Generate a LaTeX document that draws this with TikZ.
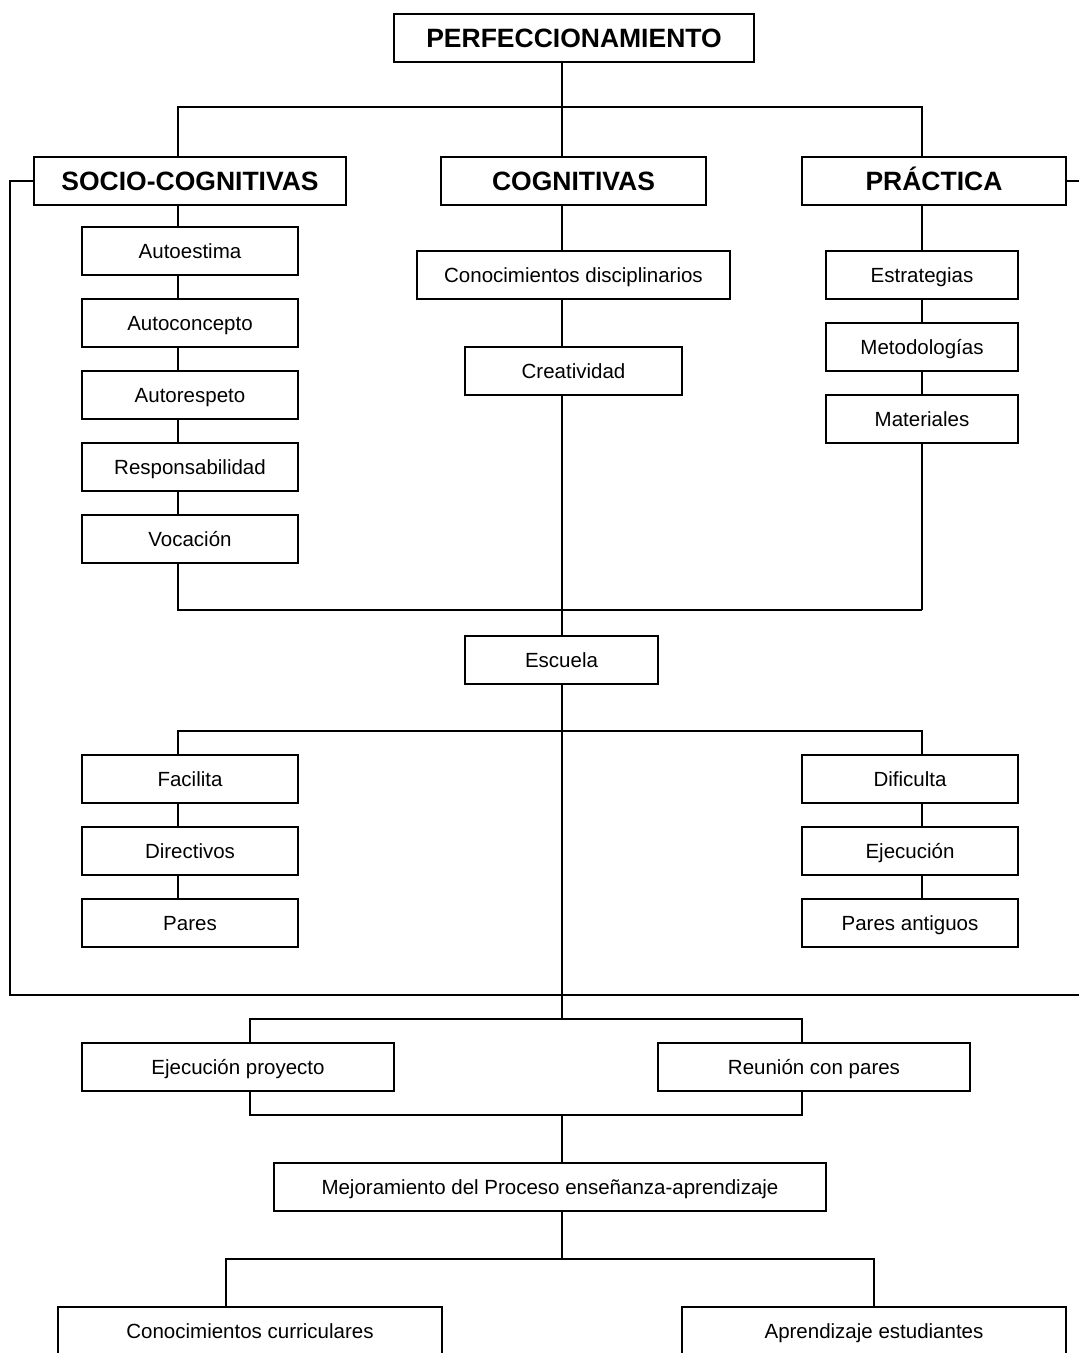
\documentclass[tikz,border=0pt]{standalone}
\usepackage{fontspec}
\setmainfont{Liberation Sans}
\begin{document}
\begin{tikzpicture}[x=1pt,y=-1pt,
  box/.style={draw,line width=1.5pt,fill=white,minimum height=48pt,inner sep=0pt,align=center,text height=17pt,text depth=3pt,font=\fontsize{20.5}{24}\selectfont},
  hbox/.style={box,text height=21.5pt,text depth=3pt,font=\fontsize{26.5}{30}\selectfont\bfseries},
  ln/.style={line width=1.5pt}]
\useasboundingbox (0,0) rectangle (1079,1353);
\clip (0,0) rectangle (1079,1353);
% nodes
\node[hbox,minimum width=360pt] (top) at (574,38) {PERFECCIONAMIENTO};
\node[hbox,minimum width=312pt] (sc) at (190,181) {SOCIO-COGNITIVAS};
\node[hbox,minimum width=265pt] (cog) at (573.5,181) {COGNITIVAS};
\node[hbox,minimum width=264pt] (pra) at (934,181) {PRÁCTICA};
\node[box,minimum width=216pt] (a1) at (190,251) {Autoestima};
\node[box,minimum width=216pt] (a2) at (190,323) {Autoconcepto};
\node[box,minimum width=216pt] (a3) at (190,395) {Autorespeto};
\node[box,minimum width=216pt] (a4) at (190,467) {Responsabilidad};
\node[box,minimum width=216pt] (a5) at (190,539) {Vocación};
\node[box,minimum width=313pt] (cd) at (573.5,275) {Conocimientos disciplinarios};
\node[box,minimum width=217pt] (cre) at (573.5,371) {Creatividad};
\node[box,minimum width=192pt] (est) at (922,275) {Estrategias};
\node[box,minimum width=192pt] (met) at (922,347) {Metodologías};
\node[box,minimum width=192pt] (mat) at (922,419) {Materiales};
\node[box,minimum width=193pt] (esc) at (561.5,660) {Escuela};
\node[box,minimum width=216pt] (fac) at (190,779) {Facilita};
\node[box,minimum width=216pt] (dir) at (190,851) {Directivos};
\node[box,minimum width=216pt] (par) at (190,923) {Pares};
\node[box,minimum width=216pt] (dif) at (910,779) {Dificulta};
\node[box,minimum width=216pt] (eje) at (910,851) {Ejecución};
\node[box,minimum width=216pt] (pan) at (910,923) {Pares antiguos};
\node[box,minimum width=312pt] (ep) at (238,1067) {Ejecución proyecto};
\node[box,minimum width=312pt] (rp) at (814,1067) {Reunión con pares};
\node[box,minimum width=552pt] (mej) at (550,1187) {Mejoramiento del Proceso enseñanza-aprendizaje};
\node[box,minimum width=384pt] (cc) at (250,1331) {Conocimientos curriculares};
\node[box,minimum width=384pt] (ae) at (874,1331) {Aprendizaje estudiantes};
% junction coordinates
\coordinate (xL) at (178,0);
\coordinate (xM) at (562,0);
\coordinate (xR) at (922,0);
\coordinate (xA) at (250,0);
\coordinate (xB) at (802,0);
\coordinate (xC) at (226,0);
\coordinate (xD) at (874,0);
\coordinate (b1) at (562,107);
\coordinate (b2) at (562,610);
\coordinate (b3) at (562,731);
\coordinate (b4) at (562,995);
\coordinate (b5) at (562,1019);
\coordinate (b6) at (562,1115);
\coordinate (b7) at (562,1259);
\coordinate (lp) at (10,995);
\coordinate (rp2) at (1090,995);
\begin{scope}[ln]
% top level
\draw (xM |- top.south) -- (b1);
\draw (xL |- sc.north) -- (xL |- b1) -- (xR |- b1) -- (xR |- pra.north);
\draw (b1) -- (xM |- cog.north);
% socio-cognitivas column
\draw (xL |- sc.south) -- (xL |- a1.north);
\draw (xL |- a1.south) -- (xL |- a2.north);
\draw (xL |- a2.south) -- (xL |- a3.north);
\draw (xL |- a3.south) -- (xL |- a4.north);
\draw (xL |- a4.south) -- (xL |- a5.north);
\draw (xL |- a5.south) -- (xL |- b2) -- (xR |- b2);
% cognitivas column
\draw (xM |- cog.south) -- (xM |- cd.north);
\draw (xM |- cd.south) -- (xM |- cre.north);
\draw (xM |- cre.south) -- (xM |- esc.north);
% practica column
\draw (xR |- pra.south) -- (xR |- est.north);
\draw (xR |- est.south) -- (xR |- met.north);
\draw (xR |- met.south) -- (xR |- mat.north);
\draw (xR |- mat.south) -- (xR |- b2);
% escuela
\draw (xM |- esc.south) -- (b5);
\draw (xL |- fac.north) -- (xL |- b3) -- (xR |- b3) -- (xR |- dif.north);
\draw (xL |- fac.south) -- (xL |- dir.north);
\draw (xL |- dir.south) -- (xL |- par.north);
\draw (xR |- dif.south) -- (xR |- eje.north);
\draw (xR |- eje.south) -- (xR |- pan.north);
% outer loop
\draw (sc.west) -- (lp |- sc.west) -- (lp) -- (rp2) -- (rp2 |- pra.east) -- (pra.east);
% lower part
\draw (xA |- ep.north) -- (xA |- b5) -- (xB |- b5) -- (xB |- rp.north);
\draw (xA |- ep.south) -- (xA |- b6) -- (xB |- b6) -- (xB |- rp.south);
\draw (b6) -- (xM |- mej.north);
\draw (xM |- mej.south) -- (b7);
\draw (xC |- cc.north) -- (xC |- b7) -- (xD |- b7) -- (xD |- ae.north);
\end{scope}
\end{tikzpicture}
\end{document}
